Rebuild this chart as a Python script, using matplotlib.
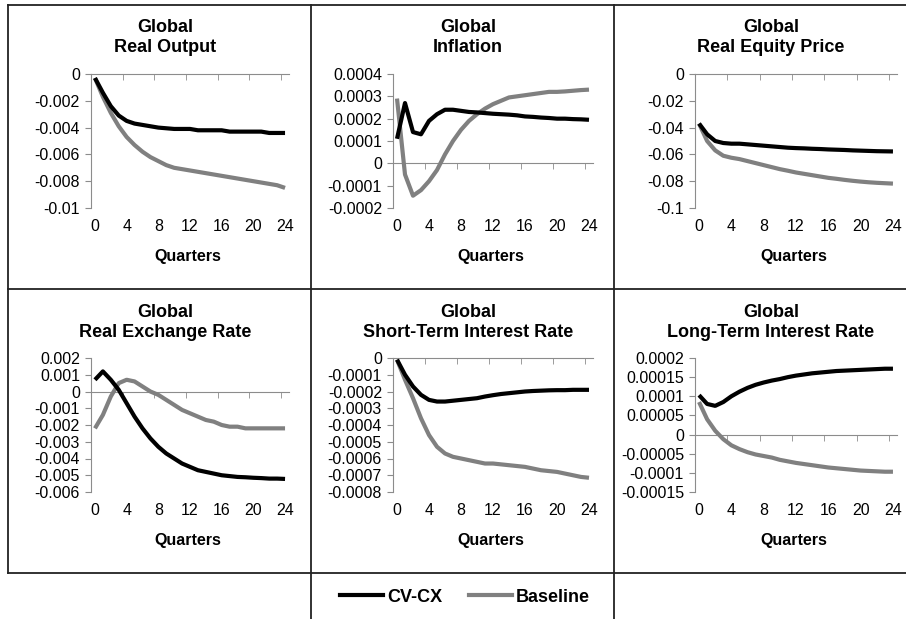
import numpy as np
import matplotlib
matplotlib.use('Agg')
import matplotlib.pyplot as plt
from matplotlib.lines import Line2D

plt.rcParams['font.family'] = ['Liberation Sans', 'DejaVu Sans']

# 数据
quarters = np.arange(25)

titles = ['Global\nReal Output', 'Global\nInflation', 'Global\nReal Equity Price',
          'Global\nReal Exchange Rate', 'Global\nShort-Term Interest Rate',
          'Global\nLong-Term Interest Rate']

output_cvcx = [-0.0003, -0.0014, -0.0024, -0.0031, -0.0035, -0.0037, -0.0038, -0.0039, -0.0040,
               -0.00405, -0.0041, -0.0041, -0.0041, -0.0042, -0.0042, -0.0042, -0.0042, -0.0043,
               -0.0043, -0.0043, -0.0043, -0.0043, -0.0044, -0.0044, -0.0044]
output_base = [-0.0003, -0.0017, -0.0029, -0.0039, -0.0047, -0.0053, -0.0058, -0.0062, -0.0065,
               -0.0068, -0.0070, -0.0071, -0.0072, -0.0073, -0.0074, -0.0075, -0.0076, -0.0077,
               -0.0078, -0.0079, -0.0080, -0.0081, -0.0082, -0.0083, -0.0085]

infl_cvcx = [0.00011, 0.00027, 0.00014, 0.00013, 0.00019, 0.00022, 0.00024, 0.00024, 0.000235,
             0.00023, 0.000228, 0.000225, 0.000222, 0.00022, 0.000218, 0.000215, 0.00021,
             0.000208, 0.000205, 0.000203, 0.0002, 0.0002, 0.000198, 0.000197, 0.000195]
infl_base = [0.00029, -0.00005, -0.000145, -0.00012, -0.00008, -0.00003, 0.00004, 0.0001,
             0.00015, 0.00019, 0.00022, 0.000245, 0.000265, 0.00028, 0.000295, 0.0003, 0.000305,
             0.00031, 0.000315, 0.00032, 0.00032, 0.000322, 0.000325, 0.000328, 0.00033]

equity_cvcx = [-0.037, -0.045, -0.050, -0.0515, -0.052, -0.052, -0.0525, -0.053, -0.0535, -0.054,
               -0.0545, -0.055, -0.0553, -0.0555, -0.0558, -0.056, -0.0563, -0.0565, -0.0567,
               -0.057, -0.0572, -0.0574, -0.0576, -0.0577, -0.0578]
equity_base = [-0.037, -0.050, -0.057, -0.061, -0.0625, -0.0635, -0.065, -0.0665, -0.068, -0.0695,
               -0.071, -0.0722, -0.0735, -0.0745, -0.0755, -0.0765, -0.0775, -0.0782, -0.079,
               -0.0797, -0.0803, -0.0808, -0.0812, -0.0815, -0.0818]

rer_cvcx = [0.0007, 0.0012, 0.0007, 0.0001, -0.0007, -0.0015, -0.0022, -0.0028, -0.0033, -0.0037,
            -0.0040, -0.0043, -0.0045, -0.0047, -0.0048, -0.0049, -0.0050, -0.00505, -0.0051,
            -0.00512, -0.00515, -0.00517, -0.0052, -0.0052, -0.00522]
rer_base = [-0.0022, -0.0014, -0.0003, 0.0005, 0.0007, 0.0006, 0.0003, 0.0000, -0.0002, -0.0005,
            -0.0008, -0.0011, -0.0013, -0.0015, -0.0017, -0.0018, -0.0020, -0.0021, -0.0021,
            -0.0022, -0.0022, -0.0022, -0.0022, -0.0022, -0.0022]

short_cvcx = [-0.00001, -0.0001, -0.00017, -0.00022, -0.00025, -0.00026, -0.00026, -0.000255,
              -0.00025, -0.000245, -0.00024, -0.00023, -0.000222, -0.000215, -0.00021, -0.000205,
              -0.0002, -0.000197, -0.000195, -0.000193, -0.000192, -0.000192, -0.00019, -0.00019,
              -0.00019]
short_base = [-0.00001, -0.00013, -0.00024, -0.00036, -0.00046, -0.00053, -0.00057, -0.00059,
              -0.0006, -0.00061, -0.00062, -0.00063, -0.00063, -0.000635, -0.00064, -0.000645,
              -0.00065, -0.00066, -0.00067, -0.000675, -0.00068, -0.00069, -0.0007, -0.00071,
              -0.000715]

long_cvcx = [0.000103, 0.00008, 0.000075, 0.000085, 0.0001, 0.000112, 0.000122, 0.00013, 0.000136,
             0.000141, 0.000145, 0.00015, 0.000154, 0.000157, 0.00016, 0.000162, 0.000164,
             0.000166, 0.000167, 0.000168, 0.000169, 0.00017, 0.000171, 0.000172, 0.000172]
long_base = [0.000085, 0.00004, 0.00001, -0.000012, -0.000028, -0.000038, -0.000046, -0.000052,
             -0.000056, -0.00006, -0.000066, -0.00007, -0.000074, -0.000077, -0.00008, -0.000083,
             -0.000086, -0.000088, -0.00009, -0.000092, -0.000094, -0.000095, -0.000096,
             -0.000097, -0.000097]

cvcx = [output_cvcx, infl_cvcx, equity_cvcx, rer_cvcx, short_cvcx, long_cvcx]
base = [output_base, infl_base, equity_base, rer_base, short_base, long_base]

yticks = [
    [-0.01, -0.008, -0.006, -0.004, -0.002, 0],
    [-0.0002, -0.0001, 0, 0.0001, 0.0002, 0.0003, 0.0004],
    [-0.1, -0.08, -0.06, -0.04, -0.02, 0],
    [-0.006, -0.005, -0.004, -0.003, -0.002, -0.001, 0, 0.001, 0.002],
    [-0.0008, -0.0007, -0.0006, -0.0005, -0.0004, -0.0003, -0.0002, -0.0001, 0],
    [-0.00015, -0.0001, -0.00005, 0, 0.00005, 0.0001, 0.00015, 0.0002],
]
ytick_labels = [
    ['-0.01', '-0.008', '-0.006', '-0.004', '-0.002', '0'],
    ['-0.0002', '-0.0001', '0', '0.0001', '0.0002', '0.0003', '0.0004'],
    ['-0.1', '-0.08', '-0.06', '-0.04', '-0.02', '0'],
    ['-0.006', '-0.005', '-0.004', '-0.003', '-0.002', '-0.001', '0', '0.001', '0.002'],
    ['-0.0008', '-0.0007', '-0.0006', '-0.0005', '-0.0004', '-0.0003', '-0.0002', '-0.0001', '0'],
    ['-0.00015', '-0.0001', '-0.00005', '0', '0.00005', '0.0001', '0.00015', '0.0002'],
]
xticks = [0, 4, 8, 12, 16, 20, 24]

W, H = 906, 619
fig = plt.figure(figsize=(W / 100, H / 100), dpi=100)

BLACK = '#000000'
GRAY = '#808080'
AXC = '#8c8c8c'

col_left = [91, 393, 695]
col_w = [198, 200, 202]
cell_left = [8, 311, 614]
row_top = [74, 358]
ax_h = 134
title_y = [37.5, 322.5]

for i in range(6):
    r, c = divmod(i, 3)
    ax = fig.add_axes([col_left[c] / W, 1 - (row_top[r] + ax_h) / H, col_w[c] / W, ax_h / H])
    ax.plot(quarters, base[i], color=GRAY, lw=3.0, solid_capstyle='butt', zorder=3)
    ax.plot(quarters, cvcx[i], color=BLACK, lw=3.0, solid_capstyle='butt', zorder=4)
    ax.set_xlim(-0.5, 24.5)
    ax.set_ylim(yticks[i][0], yticks[i][-1])

    for s in ['right', 'bottom']:
        ax.spines[s].set_visible(False)
    ax.spines['left'].set_color(AXC)
    ax.spines['top'].set_color(AXC)
    ax.spines['top'].set_position(('data', 0))

    ax.set_yticks(yticks[i])
    ax.set_yticklabels(ytick_labels[i], fontsize=11.5)
    ax.tick_params(axis='y', direction='out', length=4, color=AXC, pad=4)

    ax.set_xticks(xticks)
    ax.set_xticklabels([str(x) for x in xticks], fontsize=11.5)
    ax.set_xticks(np.arange(3.5, 24, 4), minor=True)
    ax.tick_params(axis='x', which='major', length=0, bottom=False, top=False,
                   labelbottom=True, labeltop=False, pad=8)
    ax.tick_params(axis='x', which='minor', bottom=False, top=True, direction='in',
                   length=4, color=AXC)

    ax.text(0.49, -(256 - 208) / ax_h, 'Quarters', transform=ax.transAxes,
            ha='center', va='center', fontsize=11.5, fontweight='bold')
    fig.text((cell_left[c] + 157) / W, 1 - title_y[r] / H, titles[i], ha='center',
             va='center', fontsize=13, fontweight='bold', linespacing=1.3)

# 表格边框
frame = [
    ((8, 8), (5, 573)),
    ((8, 906), (5, 5)),
    ((8, 906), (289, 289)),
    ((8, 906), (573, 573)),
    ((311, 311), (5, 619)),
    ((614, 614), (5, 619)),
]
for xs, ys in frame:
    fig.add_artist(Line2D([x / W for x in xs], [1 - y / H for y in ys],
                          transform=fig.transFigure, color='#222222', lw=1.3))

handles = [Line2D([], [], color=BLACK, lw=3.0), Line2D([], [], color=GRAY, lw=3.0)]
fig.legend(handles, ['CV-CX', 'Baseline'], loc='center', bbox_to_anchor=(465 / W, 1 - 597 / H),
           ncol=2, frameon=False, handlelength=2.4, handletextpad=0.2, columnspacing=1.5,
           prop={'weight': 'bold', 'size': 13})

fig.savefig('out.png', dpi=100)
